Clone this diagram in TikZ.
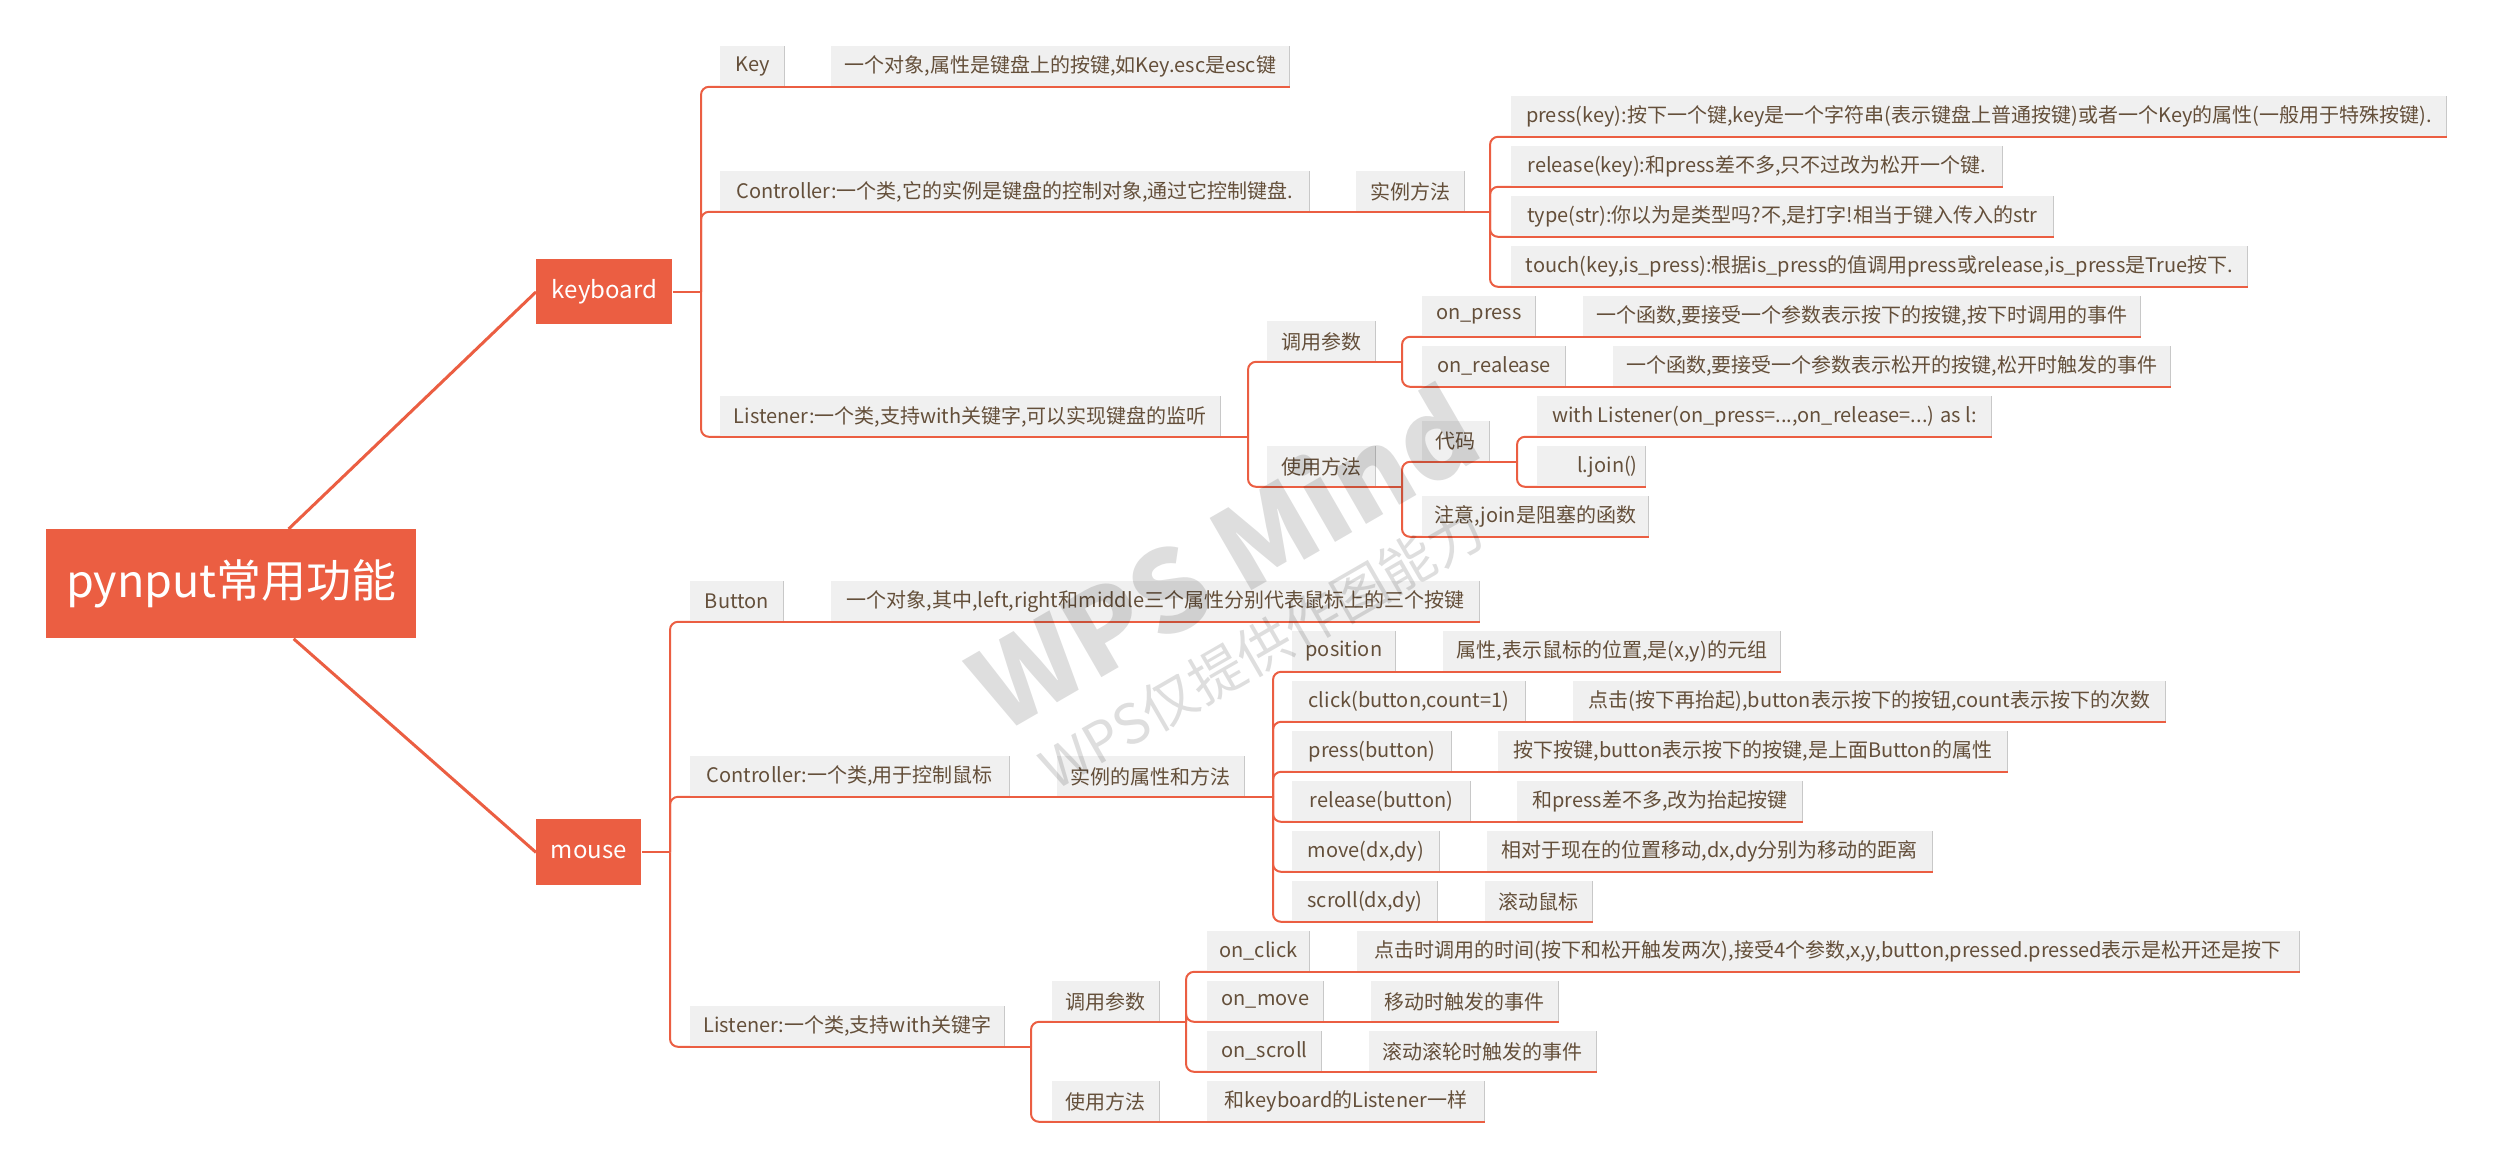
\documentclass[tikz,border=0pt]{standalone}
\usepackage{fontspec}
\setmainfont{Noto Sans CJK SC}
\definecolor{org}{RGB}{235,94,66}
\definecolor{boxfill}{RGB}{240,240,240}
\definecolor{txt}{RGB}{100,79,58}
\definecolor{shd}{RGB}{200,200,200}
\tikzset{
  box/.style={anchor=north west, inner sep=0pt, fill=boxfill, text=txt,
    font=\fontsize{10}{12}\selectfont},
  topbox/.style={anchor=north west, inner sep=0pt, fill=org, text=white},
  conn/.style={draw=org, line width=1pt},
  rc/.style={conn, rounded corners=4pt},
  rootconn/.style={draw=org, line width=1.5pt},
  uline/.style={draw=org, line width=1pt},
  shadowline/.style={draw=shd, line width=0.6pt},
  wmark/.style={text=black, opacity=0.13, rotate=30}
}
\newcommand\bx[6]{%
  \node[box, minimum width={(#4-#2)*0.5pt}, minimum height={(#5-#3)*0.5pt}] (#1) at (#2,#3) {#6};
  \draw[shadowline] (#1.north east) -- (#1.south east);
  \draw[uline] (#1.south west) -- (#1.south east);
}
\begin{document}
\begin{tikzpicture}[x=0.5pt,y=-0.5pt]
\useasboundingbox (0,0) rectangle (2506,1174);
% ---- top-level nodes
\node[topbox, minimum width={370*0.5pt}, minimum height={109*0.5pt}, font=\fontsize{22.5}{25}\selectfont] (root) at (46,529) {pynput常用功能};
\node[topbox, minimum width={136*0.5pt}, minimum height={65*0.5pt}, font=\fontsize{12}{14}\selectfont] (kb) at (536,259) {keyboard};
\node[topbox, minimum width={105*0.5pt}, minimum height={66*0.5pt}, font=\fontsize{12}{14}\selectfont] (ms) at (536,819) {mouse};
% ---- keyboard branch
\bx{key}{720}{46}{784}{86}{Key}
\bx{keyd}{831}{46}{1289}{86}{一个对象,属性是键盘上的按键,如Key.esc是esc键}
\bx{kctl}{720}{171}{1309}{211}{Controller:一个类,它的实例是键盘的控制对象,通过它控制键盘.}
\bx{kmeth}{1356}{171}{1464}{211}{实例方法}
\bx{kpress}{1511}{96}{2446}{136}{press(key):按下一个键,key是一个字符串(表示键盘上普通按键)或者一个Key的属性(一般用于特殊按键).}
\bx{krel}{1511}{146}{2002}{186}{release(key):和press差不多,只不过改为松开一个键.}
\bx{ktype}{1511}{196}{2053}{236}{type(str):你以为是类型吗?不,是打字!相当于键入传入的str}
\bx{ktouch}{1511}{246}{2247}{286}{touch(key,is\_press):根据is\_press的值调用press或release,is\_press是True按下.}
\bx{klis}{720}{396}{1220}{436}{Listener:一个类,支持with关键字,可以实现键盘的监听}
\bx{kparam}{1267}{321}{1375}{361}{调用参数}
\bx{kuse}{1267}{446}{1375}{486}{使用方法}
\bx{konp}{1422}{296}{1535}{336}{on\_press}
\bx{konpd}{1583}{296}{2140}{336}{一个函数,要接受一个参数表示按下的按键,按下时调用的事件}
\bx{konr}{1422}{346}{1565}{386}{on\_realease}
\bx{konrd}{1613}{346}{2170}{386}{一个函数,要接受一个参数表示松开的按键,松开时触发的事件}
\bx{kcode}{1422}{421}{1489}{461}{代码}
\bx{knote}{1422}{496}{1648}{536}{注意,join是阻塞的函数}
\bx{kwith}{1537}{396}{1991}{436}{with Listener(on\_press=...,on\_release=...) as l:}
\bx{kjoin}{1537}{446}{1645}{486}{\hspace*{16pt}l.join()}
% ---- mouse branch
\bx{mbtn}{690}{581}{783}{621}{Button}
\bx{mbtnd}{831}{581}{1479}{621}{一个对象,其中,left,right和middle三个属性分别代表鼠标上的三个按键}
\bx{mctl}{690}{756}{1009}{796}{Controller:一个类,用于控制鼠标}
\bx{mattr}{1057}{756}{1244}{796}{实例的属性和方法}
\bx{mpos}{1292}{631}{1395}{671}{position}
\bx{mposd}{1443}{631}{1780}{671}{属性,表示鼠标的位置,是(x,y)的元组}
\bx{mclk}{1292}{681}{1525}{721}{click(button,count=1)}
\bx{mclkd}{1573}{681}{2165}{721}{点击(按下再抬起),button表示按下的按钮,count表示按下的次数}
\bx{mprs}{1292}{731}{1451}{771}{press(button)}
\bx{mprsd}{1498}{731}{2007}{771}{按下按键,button表示按下的按键,是上面Button的属性}
\bx{mrel}{1292}{781}{1470}{821}{release(button)}
\bx{mreld}{1517}{781}{1802}{821}{和press差不多,改为抬起按键}
\bx{mmov}{1292}{831}{1439}{871}{move(dx,dy)}
\bx{mmovd}{1487}{831}{1932}{871}{相对于现在的位置移动,dx,dy分别为移动的距离}
\bx{mscr}{1292}{881}{1437}{921}{scroll(dx,dy)}
\bx{mscrd}{1485}{881}{1592}{921}{滚动鼠标}
\bx{mlis}{690}{1006}{1004}{1046}{Listener:一个类,支持with关键字}
\bx{mparam}{1052}{981}{1159}{1021}{调用参数}
\bx{muse}{1052}{1081}{1159}{1121}{使用方法}
\bx{mclick}{1207}{931}{1309}{971}{on\_click}
\bx{mclickd}{1357}{931}{2299}{971}{点击时调用的时间(按下和松开触发两次),接受4个参数,x,y,button,pressed.pressed表示是松开还是按下}
\bx{mmove}{1207}{981}{1323}{1021}{on\_move}
\bx{mmoved}{1371}{981}{1558}{1021}{移动时触发的事件}
\bx{mscroll}{1207}{1031}{1321}{1071}{on\_scroll}
\bx{mscrolld}{1369}{1031}{1596}{1071}{滚动滚轮时触发的事件}
\bx{msame}{1207}{1081}{1484}{1121}{和keyboard的Listener一样}
% ---- trunk x positions
\coordinate (t1) at (701,0);
\coordinate (t2) at (1490,0);
\coordinate (t3) at (1248,0);
\coordinate (t4) at (1402,0);
\coordinate (t6) at (1517,0);
\coordinate (t7) at (670,0);
\coordinate (t8) at (1273,0);
\coordinate (t9) at (1031,0);
\coordinate (t10) at (1186,0);
% ---- root connectors
\draw[rootconn] (root) -- (kb.west);
\draw[rootconn] (root) -- (ms.west);
% ---- keyboard connectors
\draw[conn] (kb.east) -- (kb.east -| t1);
\foreach \c in {key,kctl,klis} \draw[rc] (kb.east -| t1) |- (\c.south west);
\draw[conn] (key.south east) -- (keyd.south west);
\draw[conn] (kctl.south east) -- (kmeth.south west);
\draw[conn] (kmeth.south east) -- (kmeth.south east -| t2);
\foreach \c in {kpress,krel,ktype,ktouch} \draw[rc] (kmeth.south east -| t2) |- (\c.south west);
\draw[conn] (klis.south east) -- (klis.south east -| t3);
\foreach \c in {kparam,kuse} \draw[rc] (klis.south east -| t3) |- (\c.south west);
\draw[conn] (kparam.south east) -- (kparam.south east -| t4);
\foreach \c in {konp,konr} \draw[rc] (kparam.south east -| t4) |- (\c.south west);
\draw[conn] (konp.south east) -- (konpd.south west);
\draw[conn] (konr.south east) -- (konrd.south west);
\draw[conn] (kuse.south east) -- (kuse.south east -| t4);
\foreach \c in {kcode,knote} \draw[rc] (kuse.south east -| t4) |- (\c.south west);
\draw[conn] (kcode.south east) -- (kcode.south east -| t6);
\foreach \c in {kwith,kjoin} \draw[rc] (kcode.south east -| t6) |- (\c.south west);
% ---- mouse connectors
\draw[conn] (ms.east) -- (ms.east -| t7);
\foreach \c in {mbtn,mctl,mlis} \draw[rc] (ms.east -| t7) |- (\c.south west);
\draw[conn] (mbtn.south east) -- (mbtnd.south west);
\draw[conn] (mctl.south east) -- (mattr.south west);
\draw[conn] (mattr.south east) -- (mattr.south east -| t8);
\foreach \c in {mpos,mclk,mprs,mrel,mmov,mscr} \draw[rc] (mattr.south east -| t8) |- (\c.south west);
\draw[conn] (mpos.south east) -- (mposd.south west);
\draw[conn] (mclk.south east) -- (mclkd.south west);
\draw[conn] (mprs.south east) -- (mprsd.south west);
\draw[conn] (mrel.south east) -- (mreld.south west);
\draw[conn] (mmov.south east) -- (mmovd.south west);
\draw[conn] (mscr.south east) -- (mscrd.south west);
\draw[conn] (mlis.south east) -- (mlis.south east -| t9);
\foreach \c in {mparam,muse} \draw[rc] (mlis.south east -| t9) |- (\c.south west);
\draw[conn] (mparam.south east) -- (mparam.south east -| t10);
\foreach \c in {mclick,mmove,mscroll} \draw[rc] (mparam.south east -| t10) |- (\c.south west);
\draw[conn] (mclick.south east) -- (mclickd.south west);
\draw[conn] (mmove.south east) -- (mmoved.south west);
\draw[conn] (mscroll.south east) -- (mscrolld.south west);
\draw[conn] (muse.south east) -- (msame.south west);
% ---- watermark
\node[wmark, font=\fontsize{56}{58}\selectfont\bfseries] (wm1) at (1222,555) {WPS Mind};
\node[wmark, font=\fontsize{27.5}{30}\selectfont] (wm2) at (1262,648) {WPS仅提供作图能力};
\end{tikzpicture}
\end{document}
